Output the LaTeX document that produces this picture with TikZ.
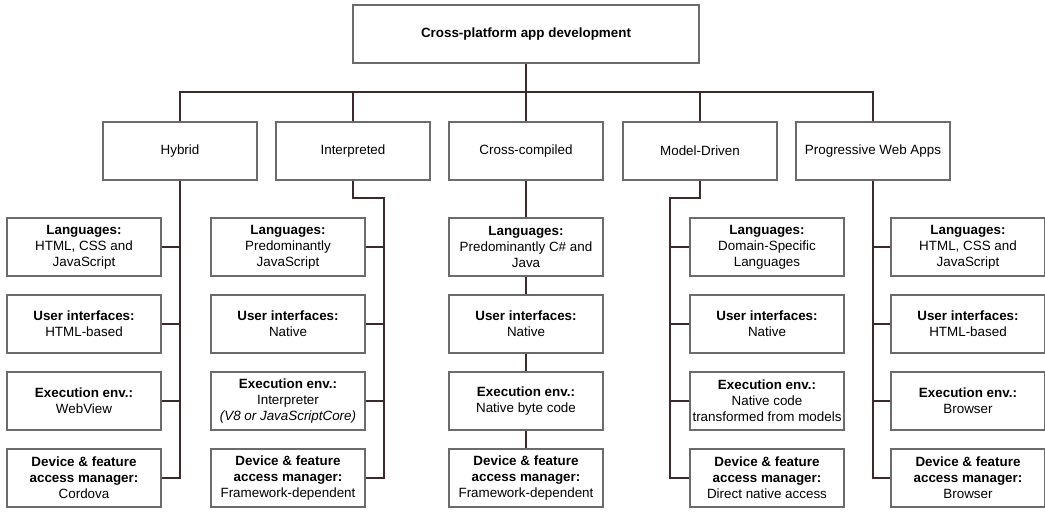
\documentclass[tikz,border=0pt]{standalone}
\usepackage{fontspec}
\setmainfont{Liberation Sans}
\usetikzlibrary{positioning}
\definecolor{boxgray}{HTML}{6B6B6B}
\definecolor{linkbrown}{HTML}{3B2A2A}

\begin{document}
\begin{tikzpicture}[x=1pt, y=-1pt,
    every node/.style={font=\fontsize{13.4}{16}\selectfont},
    catbox/.style={draw=boxgray, line width=1.4pt, minimum width=154pt,
      minimum height=58pt, inner sep=0pt, align=center},
    rootbox/.style={catbox, minimum width=346pt,
      font=\fontsize{13.4}{16}\selectfont\bfseries},
    link/.style={draw=linkbrown, line width=2pt}]
    \useasboundingbox (0,0) rectangle (1045,512);

    \node[rootbox] (root) at (526,34) {Cross-platform app development};

    \node[catbox] (hyb) at (180,151) {Hybrid};
    \node[catbox] (int) at (353,151) {Interpreted};
    \node[catbox] (cc) at (526,151) {Cross-compiled};
    \node[catbox] (md) at (700,151) {Model-Driven};
    \node[catbox] (pwa) at (873,151) {Progressive Web Apps};

    % hybrid
    \node[catbox] (h1) at (84,247) {\textbf{Languages:}\\HTML, CSS and\\JavaScript};
    \node[catbox] (h2) at (84,324) {\textbf{User interfaces:}\\HTML-based};
    \node[catbox] (h3) at (84,401) {\textbf{Execution env.:}\\WebView};
    \node[catbox] (h4) at (84,478) {\textbf{Device \& feature}\\\textbf{access manager:}\\Cordova};

    % interpreted
    \node[catbox] (i1) at (288,247) {\textbf{Languages:}\\Predominantly\\JavaScript};
    \node[catbox] (i2) at (288,324) {\textbf{User interfaces:}\\Native};
    \node[catbox] (i3) at (288,401) {\textbf{Execution env.:}\\Interpreter\\\textit{(V8 or JavaScriptCore)}};
    \node[catbox] (i4) at (288,478) {\textbf{Device \& feature}\\\textbf{access manager:}\\Framework-dependent};

    % cross-compiled
    \node[catbox] (c1) at (526,247) {\textbf{Languages:}\\Predominantly C\# and\\Java};
    \node[catbox] (c2) at (526,324) {\textbf{User interfaces:}\\Native};
    \node[catbox] (c3) at (526,401) {\textbf{Execution env.:}\\Native byte code};
    \node[catbox] (c4) at (526,478) {\textbf{Device \& feature}\\\textbf{access manager:}\\Framework-dependent};

    % model-driven
    \node[catbox] (m1) at (767,247) {\textbf{Languages:}\\Domain-Specific\\Languages};
    \node[catbox] (m2) at (767,324) {\textbf{User interfaces:}\\Native};
    \node[catbox] (m3) at (767,401) {\textbf{Execution env.:}\\Native code\\transformed from models};
    \node[catbox] (m4) at (767,478) {\textbf{Device \& feature}\\\textbf{access manager:}\\Direct native access};

    % progressive web apps
    \node[catbox] (p1) at (968,247) {\textbf{Languages:}\\HTML, CSS and\\JavaScript};
    \node[catbox] (p2) at (968,324) {\textbf{User interfaces:}\\HTML-based};
    \node[catbox] (p3) at (968,401) {\textbf{Execution env.:}\\Browser};
    \node[catbox] (p4) at (968,478) {\textbf{Device \& feature}\\\textbf{access manager:}\\Browser};

    % top level bus
    \coordinate (bus) at (526,92);
    \draw[link] (root.south) -- (bus);
    \draw[link] (hyb.north) |- (bus) -| (pwa.north);
    \draw[link] (int.north) -- (int.north |- bus);
    \draw[link] (cc.north) -- (bus);
    \draw[link] (md.north) -- (md.north |- bus);

    % hybrid trunk
    \draw[link] (hyb.south) |- (h4.east);
    \draw[link] (h1.east) -- (h1.east -| hyb.south);
    \draw[link] (h2.east) -- (h2.east -| hyb.south);
    \draw[link] (h3.east) -- (h3.east -| hyb.south);

    % interpreted trunk
    \coordinate (ibend) at (384,198);
    \draw[link] (int.south) |- (ibend) |- (i4.east);
    \draw[link] (i1.east) -- (i1.east -| ibend);
    \draw[link] (i2.east) -- (i2.east -| ibend);
    \draw[link] (i3.east) -- (i3.east -| ibend);

    % cross-compiled chain
    \draw[link] (cc.south) -- (c1.north);
    \draw[link] (c1.south) -- (c2.north);
    \draw[link] (c2.south) -- (c3.north);
    \draw[link] (c3.south) -- (c4.north);

    % model-driven trunk
    \coordinate (mbend) at (670,198);
    \draw[link] (md.south) |- (mbend) |- (m4.west);
    \draw[link] (m1.west) -- (m1.west -| mbend);
    \draw[link] (m2.west) -- (m2.west -| mbend);
    \draw[link] (m3.west) -- (m3.west -| mbend);

    % pwa trunk
    \draw[link] (pwa.south) |- (p4.west);
    \draw[link] (p1.west) -- (p1.west -| pwa.south);
    \draw[link] (p2.west) -- (p2.west -| pwa.south);
    \draw[link] (p3.west) -- (p3.west -| pwa.south);
\end{tikzpicture}
\end{document}
